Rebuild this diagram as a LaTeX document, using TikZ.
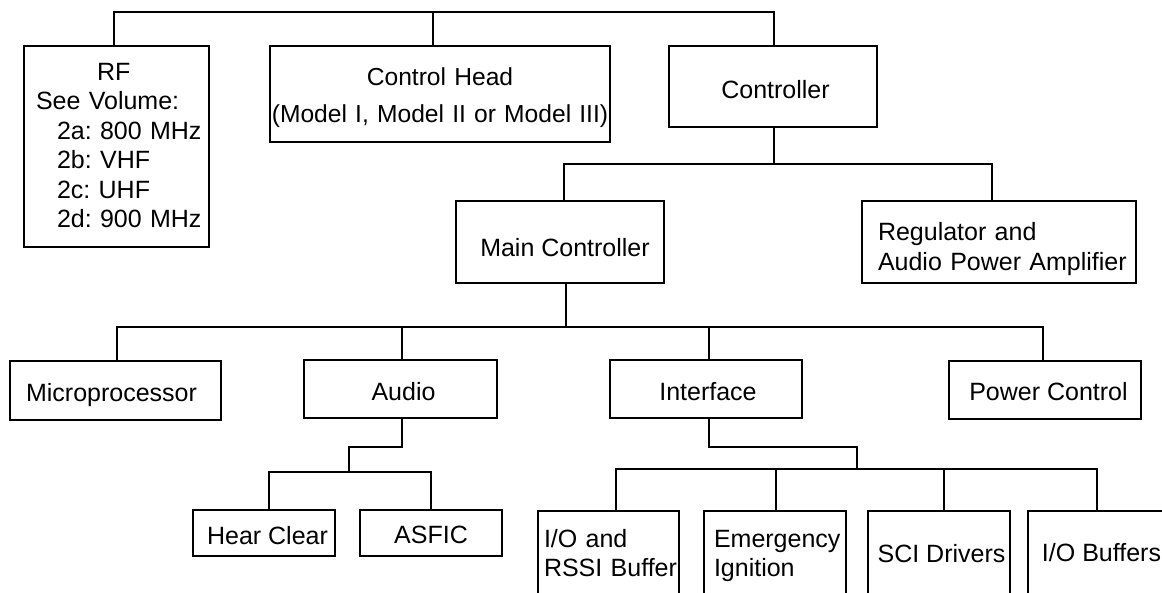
\documentclass[tikz,border=0pt]{standalone}
\usepackage{fontspec}
\setmainfont{Liberation Sans}
\hyphenpenalty=10000
\exhyphenpenalty=10000
\frenchspacing
\begin{document}
\frenchspacing
\begin{tikzpicture}[x=1pt,y=-1pt,
  box/.style={draw=black, line width=1.8pt, rectangle, inner sep=0pt, outer sep=0pt, font=\fontsize{25}{30}\selectfont\frenchspacing},
  conn/.style={draw=black, line width=1.8pt, line join=miter}]
\useasboundingbox (0,0) rectangle (1162,592);
\fill[white] (0,0) rectangle (1162,592);
\clip (0,0) rectangle (1162,592);

% boxes
\node[box, minimum width=185pt, minimum height=201pt, text width=161pt, align=left, text height=0pt, text depth=133pt, font=\fontsize{25}{29.5}\selectfont\frenchspacing] (rf) at (116.5,146.5)
  {\hspace*{61pt}RF\\\mbox{See Volume:}\\\hspace*{21pt}\mbox{2a: 800 MHz}\\\hspace*{21pt}\mbox{2b: VHF}\\\hspace*{21pt}\mbox{2c: UHF}\\\hspace*{21pt}\mbox{2d: 900 MHz}};
\node[box, minimum width=340pt, minimum height=96pt, text width=340pt, align=center, text height=0pt, text depth=17pt, font=\fontsize{24.6}{37}\selectfont\frenchspacing] (ch) at (440,94)
  {\mbox{Control Head}\\\mbox{(Model I, Model II or Model III)}};
\node[box, minimum width=208pt, minimum height=81pt, text height=23pt, text depth=0pt] (ctrl) at (773,86.5) {\hspace*{5pt}Controller};
\node[box, minimum width=208pt, minimum height=82pt, text height=28pt, text depth=0pt] (mc) at (560,242) {\hspace*{10pt}Main Controller};
\node[box, minimum width=274pt, minimum height=82pt, text width=242pt, align=left, text height=0pt, text depth=4pt] (reg) at (999,242)
  {\mbox{Regulator and}\\\mbox{Audio Power Amplifier}};
\node[box, minimum width=211pt, minimum height=59pt, text height=21pt, text depth=0pt] (mp) at (115.5,390.5) {Microprocessor\hspace*{8pt}};
\node[box, minimum width=193pt, minimum height=58pt, text height=22pt, text depth=0pt] (au) at (400.5,389) {\hspace*{6pt}Audio};
\node[box, minimum width=192pt, minimum height=58pt, text height=23pt, text depth=0pt] (iface) at (706,389) {\hspace*{4pt}Interface};
\node[box, minimum width=192pt, minimum height=58pt, text height=21pt, text depth=0pt] (pc) at (1045,390) {\hspace*{7pt}Power Control};
\node[box, minimum width=142pt, minimum height=46pt, text height=22pt, text depth=0pt] (hc) at (264,533) {\hspace*{7pt}Hear Clear};
\node[box, minimum width=142pt, minimum height=46pt, text height=21pt, text depth=0pt] (asfic) at (431,533) {ASFIC};
\node[box, minimum width=141pt, minimum height=85pt, text width=129pt, align=left, text height=0pt, text depth=13pt, font=\fontsize{25}{29}\selectfont\frenchspacing] (io) at (608.5,553.5)
  {\mbox{I/O and}\\\mbox{RSSI Buffer}};
\node[box, minimum width=142pt, minimum height=85pt, text width=122pt, align=left, text height=0pt, text depth=13pt, font=\fontsize{25}{29}\selectfont\frenchspacing] (em) at (775,553.5)
  {Emergency\\Ignition};
\node[box, minimum width=142pt, minimum height=85pt, text height=17pt, text depth=0pt] (sci) at (939,553.5) {\hspace*{5pt}SCI Drivers};
\node[box, minimum width=147pt, minimum height=85pt, text height=16pt, text depth=0pt] (iob) at (1101.5,553.5) {I/O Buffers};

% bus levels
\coordinate (b0) at (0,12);
\coordinate (b1) at (0,164);
\coordinate (b2) at (0,327);
\coordinate (ak) at (0,447);
\coordinate (aj) at (349,472);
\coordinate (ij) at (857,469);

% top level
\draw[conn] ([xshift=-2.5pt]rf.north) |- ([xshift=1pt]ctrl.north |- b0) -- ([xshift=1pt]ctrl.north);
\draw[conn] ([xshift=-7pt]ch.north) -- ([xshift=-7pt]ch.north |- b0);

% controller
\draw[conn] ([xshift=1pt]ctrl.south) -- ([xshift=1pt]ctrl.south |- b1);
\draw[conn] ([xshift=4pt]mc.north) |- ([xshift=-7pt]reg.north |- b1) -- ([xshift=-7pt]reg.north);

% main controller
\draw[conn] ([xshift=6pt]mc.south) -- ([xshift=6pt]mc.south |- b2);
\draw[conn] ([xshift=1.5pt]mp.north) |- ([xshift=-2pt]pc.north |- b2) -- ([xshift=-2pt]pc.north);
\draw[conn] ([xshift=1.5pt]au.north) -- ([xshift=1.5pt]au.north |- b2);
\draw[conn] ([xshift=3pt]iface.north) -- ([xshift=3pt]iface.north |- b2);

% audio
\draw[conn] ([xshift=1.5pt]au.south) -- ([xshift=1.5pt]au.south |- ak) -| (aj);
\draw[conn] ([xshift=5pt]hc.north) |- (asfic.north |- aj) -- (asfic.north);

% interface
\draw[conn] ([xshift=3pt]iface.south) -- ([xshift=3pt]iface.south |- ak) -| (ij);
\draw[conn] ([xshift=7.5pt]io.north) |- ([xshift=-4.5pt]iob.north |- ij) -- ([xshift=-4.5pt]iob.north);
\draw[conn] ([xshift=1pt]em.north) -- ([xshift=1pt]em.north |- ij);
\draw[conn] ([xshift=5pt]sci.north) -- ([xshift=5pt]sci.north |- ij);
\end{tikzpicture}
\end{document}
